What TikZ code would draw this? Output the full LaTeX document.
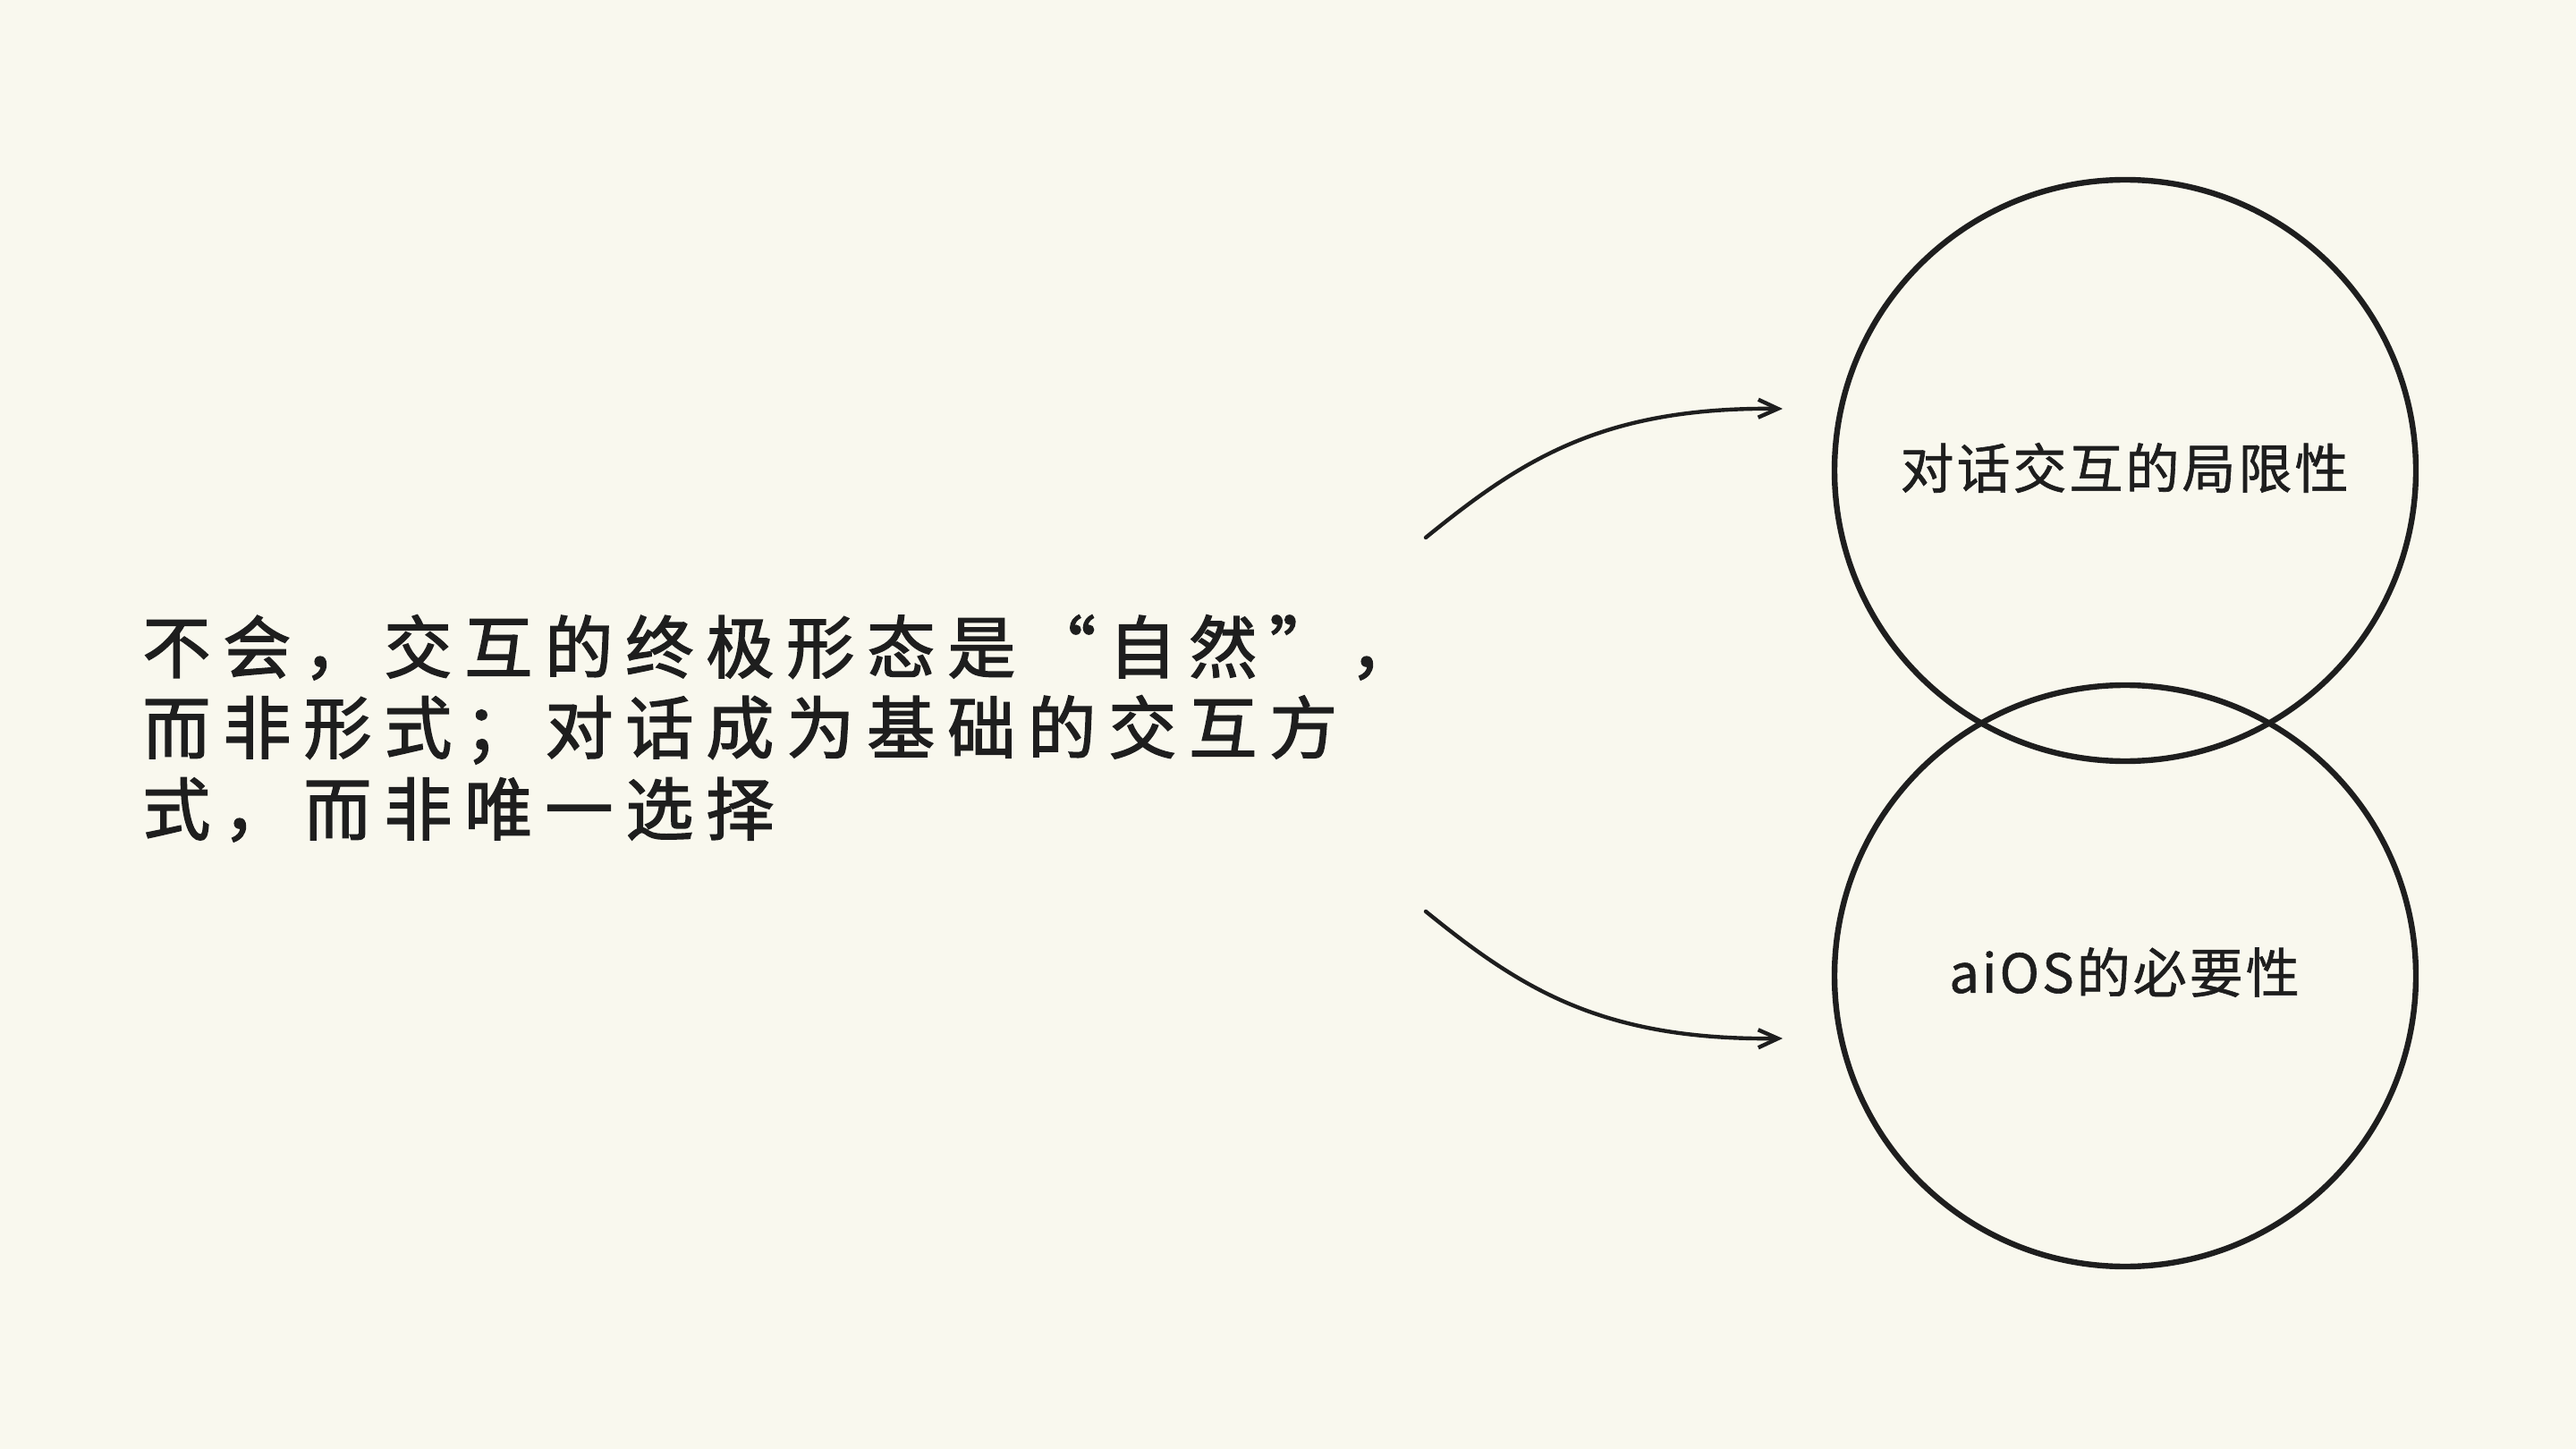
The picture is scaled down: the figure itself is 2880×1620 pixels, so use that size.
\documentclass[tikz,border=0pt]{standalone}
\usepackage{fontspec}
\newfontfamily\cjkfont{Noto Sans CJK SC}
\newfontfamily\cjkmed[FakeBold=2]{Noto Sans CJK SC}
\newfontfamily\cjklbl[FakeBold=1]{Noto Sans CJK SC}
\usetikzlibrary{arrows.meta}
\definecolor{bgcol}{RGB}{249,248,238}
\definecolor{inkcol}{RGB}{30,30,30}
\newcommand\lspk{}
\def\lspacedaux#1{\ifx#1\relax\else#1\kern\lspk\expandafter\lspacedaux\fi}
\newcommand\lspacedtxt[2]{\def\lspk{#1}\lspacedaux#2\relax\kern-#1}
\tikzset{
  circ/.style={circle,draw=inkcol,line width=3.2pt,minimum size=325pt,inner sep=0pt},
  lbl/.style={inner sep=0pt,text=inkcol,font=\cjklbl\fontsize{30pt}{36pt}\selectfont},
  bigtxt/.style={inner sep=0pt,anchor=base west,text=inkcol,font=\cjkmed\fontsize{38pt}{45.5pt}\selectfont},
  arr/.style={draw=inkcol,line width=2.2pt,line cap=round,-{Straight Barb[length=11pt,width=10pt,line width=2.2pt]}}
}
\begin{document}
\begin{tikzpicture}[x=0.5pt,y=-0.5pt]
\fill[bgcol] (0,0) rectangle (2880,1620);
\useasboundingbox (0,0) rectangle (2880,1620);
% left text
\node[bigtxt] (l1) at (159,752) {\lspacedtxt{7pt}{不会，交互的终极形态是“自然”，}};
\node[bigtxt] (l2) at (159,842) {\lspacedtxt{7pt}{而非形式；对话成为基础的交互方}};
\node[bigtxt] (l3) at (159,933) {\lspacedtxt{7pt}{式，而非唯一选择}};
% circles
\node[circ] (topc) at (2376,526) {};
\node[circ] (botc) at (2376,1091) {};
\node[lbl] (topt) at (2375,523) {\lspacedtxt{1.5pt}{对话交互的局限性}};
\node[lbl] (bott) at (2375,1087) {\lspacedtxt{1.5pt}{aiOS的必要性}};
% arrows
\coordinate (a1s) at (1594,601);
\coordinate (a1e) at (1993,457);
\coordinate (a2s) at (1594,1019);
\coordinate (a2e) at (1993,1161);
\draw[arr] (a1s) .. controls (1700,515) and (1790,455) .. (a1e);
\draw[arr] (a2s) .. controls (1700,1105) and (1790,1163) .. (a2e);
\end{tikzpicture}
\end{document}
